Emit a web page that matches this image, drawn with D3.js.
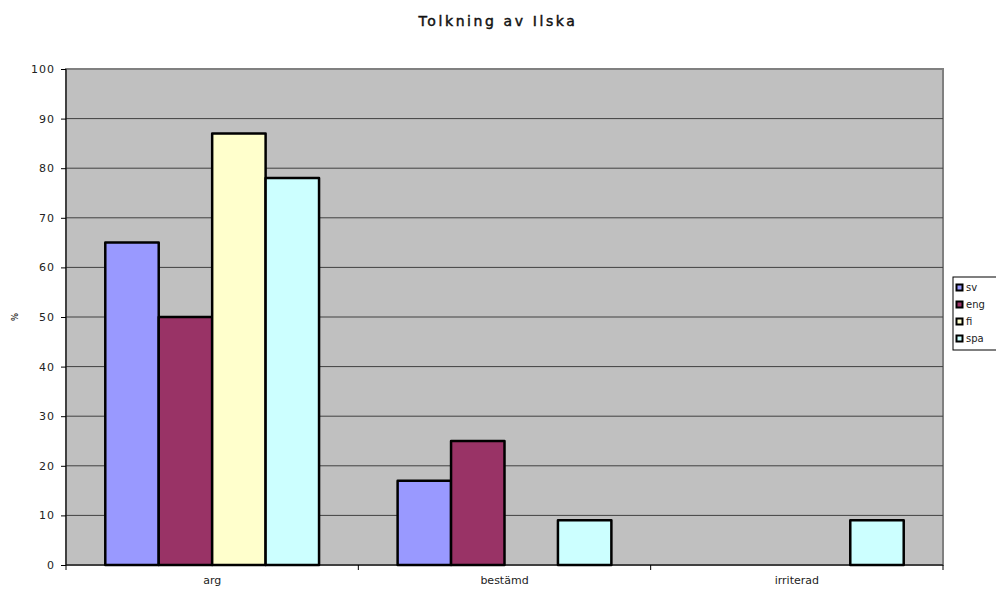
<!DOCTYPE html>
<html>
<head>
<meta charset="utf-8">
<script src="https://cdn.jsdelivr.net/npm/d3@7"></script>
<style>
  html, body { margin: 0; padding: 0; background: #fff; }
  svg { display: block; font-family: "DejaVu Sans", Verdana, sans-serif; }
</style>
</head>
<body>
<svg id="chart" width="996" height="591"></svg>
<script>
// Andel tolkningar per språkgrupp (procent)
const categories = ["arg", "bestämd", "irriterad"];
const seriesNames = ["sv", "eng", "fi", "spa"];
const sv  = [65, 17, 0];
const eng = [50, 25, 0];
const fi  = [87, 0, 0];
const spa = [78, 9, 9];
const yTicks = [0, 10, 20, 30, 40, 50, 60, 70, 80, 90, 100];
const colors = ["#9999ff", "#993366", "#ffffcc", "#ccffff"];

const seriesValues = [sv, eng, fi, spa];
const plot = { left: 66, top: 69, right: 943, bottom: 565 };

const svg = d3.select("#chart");

// Titel
svg.append("text")
  .attr("x", 498).attr("y", 26)
  .attr("text-anchor", "middle")
  .attr("font-size", 14)
  .attr("letter-spacing", 2.6)
  .attr("fill", "#111")
  .attr("stroke", "#111").attr("stroke-width", 0.45)
  .text("Tolkning av Ilska");

const x0 = d3.scaleBand().domain(categories).range([plot.left, plot.right]).paddingInner(0).paddingOuter(0);
const x1 = d3.scaleBand().domain(seriesNames).range([0, x0.bandwidth()]).paddingInner(0).paddingOuter(0.735);
const y = d3.scaleLinear().domain([0, 100]).range([plot.bottom, plot.top]);

// Ritytan
svg.append("rect")
  .attr("x", plot.left).attr("y", plot.top)
  .attr("width", plot.right - plot.left).attr("height", plot.bottom - plot.top)
  .attr("fill", "#c0c0c0")
  .attr("stroke", "#808080").attr("stroke-width", 2);

// Stödlinjer
svg.append("g").selectAll("line")
  .data(yTicks.filter(t => t > 0 && t < 100))
  .join("line")
  .attr("x1", plot.left).attr("x2", plot.right)
  .attr("y1", d => y(d)).attr("y2", d => y(d))
  .attr("stroke", "#404040").attr("stroke-width", 1);

// Staplar
const groups = svg.append("g").selectAll("g")
  .data(categories.map((c, i) => ({ c, vals: seriesNames.map((s, k) => ({ s, k, v: seriesValues[k][i] })) })))
  .join("g")
  .attr("transform", d => `translate(${x0(d.c)},0)`);

groups.selectAll("rect")
  .data(d => d.vals.filter(e => e.v > 0))
  .join("rect")
  .attr("x", d => x1(d.s))
  .attr("y", d => y(d.v))
  .attr("width", x1.bandwidth())
  .attr("height", d => y(0) - y(d.v))
  .attr("fill", d => colors[d.k])
  .attr("stroke", "#000").attr("stroke-width", 2.5)
  .attr("stroke-linejoin", "round");

// Y-axel
const yAxis = d3.axisLeft(y).tickValues(yTicks).tickSize(5).tickPadding(6);
const gy = svg.append("g").attr("transform", `translate(${plot.left},0)`).call(yAxis);
gy.select(".domain").attr("stroke", "#000").attr("d", `M0,${plot.top}V${plot.bottom}`);
gy.selectAll(".tick line").attr("stroke", "#000");
gy.selectAll(".tick text").attr("font-size", 11).attr("fill", "#222")
  .attr("letter-spacing", 1)
  .attr("font-family", "DejaVu Sans, Verdana, sans-serif");

// X-axel
const xAxis = d3.axisBottom(x0).tickSize(0).tickPadding(11);
const gx = svg.append("g").attr("transform", `translate(0,${plot.bottom})`).call(xAxis);
gx.select(".domain").attr("stroke", "#000").attr("d", `M${plot.left},0H${plot.right}`);
gx.selectAll(".tick text").attr("font-size", 11).attr("fill", "#222")
  .attr("font-family", "DejaVu Sans, Verdana, sans-serif");
// Kategorigränser
svg.append("g").selectAll("line")
  .data(categories.map(c => x0(c)).concat([plot.right]))
  .join("line")
  .attr("x1", d => d).attr("x2", d => d)
  .attr("y1", plot.bottom).attr("y2", plot.bottom + 5)
  .attr("stroke", "#000");

// Axeltitel
svg.append("text")
  .attr("transform", "translate(18,317) rotate(-90)")
  .attr("text-anchor", "middle")
  .attr("font-size", 8).attr("font-weight", "bold")
  .attr("fill", "#333")
  .text("%");

// Förklaring
const lg = svg.append("g").attr("transform", "translate(953,277)");
lg.append("rect")
  .attr("x", 0).attr("y", 0).attr("width", 46).attr("height", 73)
  .attr("fill", "#fff").attr("stroke", "#000").attr("stroke-width", 1);
const items = lg.selectAll("g.item").data(seriesNames).join("g")
  .attr("class", "item")
  .attr("transform", (d, i) => `translate(3,${13 + i * 17})`);
items.append("rect")
  .attr("x", 0.5).attr("y", -5.5).attr("width", 6).attr("height", 6)
  .attr("fill", (d, i) => colors[i]).attr("stroke", "#000").attr("stroke-width", 2);
items.append("text")
  .attr("x", 10).attr("y", 1)
  .attr("font-size", 10).attr("fill", "#222")
  .text(d => d);
</script>
</body>
</html>
